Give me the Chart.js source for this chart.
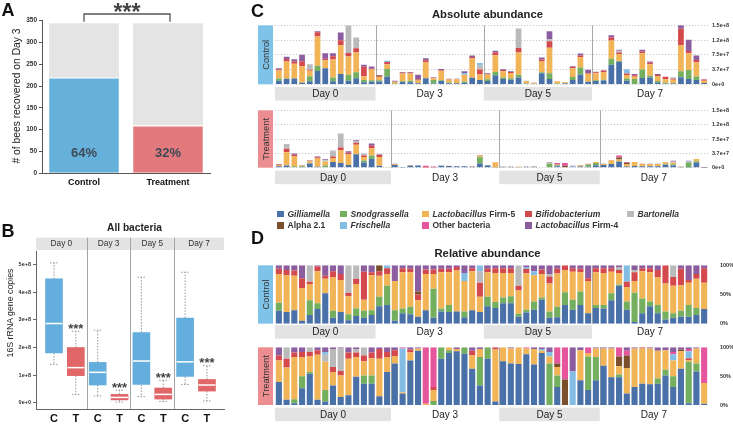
<!DOCTYPE html>
<html><head><meta charset="utf-8">
<script src="https://cdn.jsdelivr.net/npm/chart.js@4.4.1/dist/chart.umd.min.js"></script>
<style>
html,body{margin:0;padding:0;background:#fff;}
body{width:733px;height:424px;position:relative;overflow:hidden;font-family:"Liberation Sans",Arial,Helvetica,sans-serif;color:#222;}
canvas{position:absolute;}
.t{position:absolute;white-space:nowrap;line-height:1;}
.letter{font-weight:bold;font-size:18px;color:#111;}
.title{font-weight:bold;color:#222;transform:translateX(-50%);}
.rot{transform:translate(-50%,-50%) rotate(-90deg);color:#222;}
.leg{font-weight:bold;font-size:8.5px;color:#333;}
.sw{display:inline-block;width:6.5px;height:6.5px;margin-right:4px;vertical-align:-0.5px;}
</style></head><body>
<canvas id="cA" width="215" height="192" style="left:0;top:0"></canvas>
<canvas id="cB" width="230" height="209" style="left:0;top:215px"></canvas>
<canvas id="cC1" width="483" height="84" style="left:250px;top:18px"></canvas>
<canvas id="cC2" width="483" height="84" style="left:250px;top:103px"></canvas>
<canvas id="cD1" width="483" height="84" style="left:250px;top:258px"></canvas>
<canvas id="cD2" width="483" height="84" style="left:250px;top:340px"></canvas>

<div class="t letter" style="left:1.5px;top:1px">A</div>
<div class="t letter" style="left:1.5px;top:222px">B</div>
<div class="t letter" style="left:251px;top:1.7px">C</div>
<div class="t letter" style="left:251px;top:229px">D</div>
<div class="t title" style="left:487.5px;top:9.2px;font-size:11.3px">Absolute abundance</div>
<div class="t title" style="left:487.5px;top:247.8px;font-size:11.3px">Relative abundance</div>
<div class="t title" style="left:134.5px;top:223px;font-size:10.2px">All bacteria</div>
<div class="t rot" style="left:17px;top:95.8px;font-size:10.3px">#&nbsp;of bees recovered on Day 3</div>
<div class="t rot" style="left:10px;top:313px;font-size:8.8px">16S rRNA gene copies</div>
<div id="legend"></div>

<script>
// ---------------- DATA ----------------
// Panel A
const beeGroups = ['Control', 'Treatment'];
const beesRecovered = [220, 110];
const beesLost = [124, 234];
const beePercent = ['64%', '32%'];

// Panel B (16S rRNA gene copies)
const boxLabels = ['C', 'T', 'C', 'T', 'C', 'T', 'C', 'T'];
const boxDays = ['Day 0', 'Day 3', 'Day 5', 'Day 7'];
const boxMin    = [1.39e8, 0.30e8, 0.24e8, 0.02e8, 0.22e8, 0.04e8, 0.66e8, 0.06e8];
const boxQ1     = [1.80e8, 0.98e8, 0.64e8, 0.10e8, 0.66e8, 0.13e8, 0.95e8, 0.42e8];
const boxMedian = [2.87e8, 1.27e8, 1.10e8, 0.19e8, 1.51e8, 0.30e8, 1.48e8, 0.64e8];
const boxQ3     = [4.49e8, 2.00e8, 1.46e8, 0.30e8, 2.54e8, 0.53e8, 3.07e8, 0.84e8];
const boxMax    = [5.07e8, 2.59e8, 2.63e8, 0.45e8, 4.55e8, 0.81e8, 4.73e8, 1.34e8];
const boxStars  = ['', '***', '', '***', '', '***', '', '***'];
const boxTickLabels = ['0e+0', '1e+8', '2e+8', '3e+8', '4e+8', '5e+8'];

// Panels C / D
const days = ['Day 0', 'Day 3', 'Day 5', 'Day 7'];
const ctrlGroupSizes = [13, 14, 14, 15];
const trtGroupSizes = [15, 14, 13, 14];
const taxa = ['Gilliamella', 'Snodgrassella', 'Lactobacillus Firm-5', 'Bifidobacterium', 'Bartonella',
              'Alpha 2.1', 'Frischella', 'Other bacteria', 'Lactobacillus Firm-4'];
const absTickLabels = ['0e+0', '3.7e+7', '7.5e+7', '1.2e+8', '1.5e+8'];
const relTickLabels = ['0%', '50%', '100%'];

// relative composition (%) per sample, control
const ctrlGilliamella = [22,20,23,5,15,25,52,10,20,6,13,10,15, 30,32,5,18,16,12,23,10,21,20,21,11,23,20, 30,27,35,35,12,19,24,41,10,11,32,24,32,18, 27,26,40,65,24,3,18,30,18,7,10,12,12,15,25];
const ctrlSnodgrassella = [14,0,0,0,25,10,0,12,0,10,13,12,8, 16,33,18,8,13,0,0,50,5,12,0,10,0,0, 16,10,10,12,5,5,14,4,11,18,22,17,23,0, 5,6,12,2,14,50,25,8,14,14,8,10,20,12,0];
const ctrlFirm5 = [49,63,59,56,28,55,25,58,55,31,42,19,60, 36,20,50,62,59,28,62,25,62,56,70,52,67,26, 42,50,42,40,40,62,45,40,48,57,38,48,33,55, 56,55,37,20,25,20,47,50,48,48,47,44,38,50,45];
const ctrlBifido = [9,9,9,17,4,8,5,10,10,6,9,48,5, 8,10,0,7,6,10,8,8,6,6,6,0,5,24, 6,8,8,8,8,8,0,8,12,8,8,6,6,5, 7,8,6,5,9,15,5,7,12,31,15,28,5,8,25];
const ctrlBartonella = [0,0,0,0,28,0,0,0,0,47,23,0,0, 0,0,0,0,0,0,0,0,0,0,0,0,0,20, 0,0,0,0,35,0,0,0,4,0,0,0,0,0, 0,0,0,5,0,4,0,0,0,0,20,0,0,0,0];
const ctrlAlpha = [0,0,0,0,0,0,0,0,0,0,0,0,0, 10,0,0,0,0,5,0,0,0,0,0,0,0,0, 0,0,0,0,0,0,0,0,0,0,0,0,0,0, 0,0,0,0,0,0,0,0,0,0,0,0,0,0,0];
const ctrlFrischella = [0,0,0,0,0,0,0,0,0,0,0,0,0, 0,5,0,0,0,0,0,0,0,0,0,14,0,10, 0,0,0,0,0,3,7,0,0,0,0,0,0,0, 0,0,0,0,28,0,0,0,0,0,0,0,0,0,0];
const ctrlOther = [0,0,0,0,0,0,0,0,0,0,0,0,0, 0,0,0,0,0,0,0,0,0,0,0,0,0,0, 0,0,0,0,0,0,0,0,0,0,0,0,0,0, 0,0,0,0,0,0,0,0,0,0,0,0,0,0,0];
const ctrlFirm4 = [6,8,9,22,0,2,18,10,15,0,0,11,12, 0,0,27,5,6,45,7,7,6,6,3,13,5,0, 6,5,5,5,0,3,10,7,15,6,0,5,6,22, 5,5,5,3,0,8,5,5,8,0,0,6,25,15,5];
// total copies per sample, control
const ctrlTotal = [4.1e7,7.0e7,6.4e7,7.5e7,5.1e7,13.5e7,7.9e7,7.9e7,13.2e7,15.0e7,11.9e7,5.0e7,4.5e7,
  2.3e7,6.0e7,0.9e7,3.1e7,3.1e7,2.4e7,6.6e7,1.8e7,3.9e7,1.4e7,1.4e7,3.3e7,7.3e7,5.4e7,
  2.8e7,8.5e7,3.8e7,3.3e7,14.2e7,0.9e7,0.4e7,6.8e7,13.5e7,0.8e7,0.6e7,4.6e7,7.8e7,3.7e7,
  3.2e7,3.6e7,12.5e7,8.8e7,3.8e7,2.6e7,8.8e7,5.8e7,2.6e7,1.9e7,1.8e7,15.0e7,11.3e7,7.3e7,1.3e7];

// relative composition (%) per sample, treatment
const trtGilliamella = [40,9,3,29,54,9,6,34,14,17,49,37,37,15,57, 72,20,77,94,0,0,80,90,93,89,63,34,80,6, 76,72,71,88,70,90,0,31,0,0,43,26,43, 68,48,48,20,31,37,36,37,51,31,63,3,58,2];
const trtSnodgrassella = [0,0,7,21,3,0,20,0,0,0,0,14,14,0,0, 0,0,0,0,0,7,20,5,0,11,0,49,20,0, 0,0,0,0,0,0,72,20,0,0,0,58,40, 0,0,5,0,0,0,0,9,10,19,0,72,14,0];
const trtFirm5 = [37,56,73,33,27,78,49,23,37,63,34,25,30,65,26, 13,2,14,4,2,19,0,5,4,0,23,14,0,90, 24,26,29,10,27,4,12,15,0,0,52,6,15, 30,50,14,44,67,61,62,48,34,27,30,3,26,36];
const trtBifido = [9,15,8,9,8,8,0,9,8,11,8,10,10,17,9, 10,0,5,0,0,5,0,0,0,0,8,0,0,4, 0,0,0,0,0,0,0,0,0,0,0,0,0, 0,0,0,0,0,2,0,0,0,0,0,3,0,0];
const trtBartonella = [0,20,0,0,8,0,12,31,40,0,6,14,0,0,0, 0,0,0,0,0,0,0,0,0,0,0,0,0,0, 0,0,0,0,0,0,0,0,0,0,0,0,0, 0,0,0,0,0,0,0,0,0,0,0,0,0,0];
const trtAlpha = [0,0,0,0,0,0,0,0,0,0,0,0,0,0,0, 0,0,0,0,0,0,0,0,0,0,0,0,0,0, 0,0,0,0,0,0,0,6,44,0,0,0,0, 0,0,17,22,0,0,0,0,0,0,3,0,0,0];
const trtFrischella = [0,0,0,0,0,0,5,0,0,0,0,0,0,0,0, 0,76,0,0,0,0,0,0,0,0,0,0,0,0, 0,0,0,0,0,3,8,0,0,58,0,0,0, 0,0,0,0,0,0,0,0,0,11,0,12,0,0];
const trtOther = [0,0,0,0,0,0,0,0,0,0,0,0,0,0,0, 0,2,0,0,98,69,0,0,0,0,0,0,0,0, 0,0,0,2,0,0,0,28,56,0,0,10,0, 0,0,16,8,0,0,0,0,0,4,0,4,0,62];
const trtFirm4 = [14,0,9,8,0,5,8,3,1,9,3,0,9,3,8, 5,0,4,2,0,0,0,0,3,0,6,3,0,0, 0,2,0,0,3,3,8,0,0,42,5,0,2, 2,2,0,6,2,0,2,6,5,8,4,3,2,0];
const trtTotal = [0.95e7,6.2e7,3.7e7,0.7e7,2.0e7,2.9e7,2.2e7,4.4e7,8.9e7,4.3e7,7.2e7,3.7e7,6.3e7,3.5e7,0.2e7,
  1.0e7,0.2e7,0.7e7,0.6e7,0.5e7,0.3e7,0.6e7,0.5e7,0.4e7,0.4e7,0.4e7,3.3e7,0.7e7,1.4e7,
  0.3e7,0.3e7,0.3e7,0.3e7,0.4e7,0.1e7,1.4e7,1.2e7,1.2e7,0.5e7,0.7e7,1.0e7,1.5e7,
  1.0e7,2.0e7,3.2e7,1.5e7,1.5e7,1.0e7,1.0e7,1.0e7,1.5e7,1.8e7,0.3e7,1.8e7,2.3e7,0.2e7];

// ---------------- STYLE ----------------
const FONT = '"Liberation Sans", Arial, Helvetica, sans-serif';
const taxaColors = ['#4a70a8','#74ae5f','#f1b558','#d4494d','#bababa','#7b4f2c','#84bde4','#e6569d','#8c5ea0'];
const ctrlStripColor = '#80c3e9';
const trtStripColor = '#eb8d91';

Chart.defaults.font.family = FONT;
Chart.defaults.animation = false;
Chart.defaults.plugins.legend.display = false;
Chart.defaults.plugins.tooltip.enabled = false;

// ---------------- LEGEND (HTML) ----------------
const legendHtml = ['<i>Gilliamella</i>','<i>Snodgrassella</i>','<i>Lactobacillus</i> Firm-5','<i>Bifidobacterium</i>','<i>Bartonella</i>',
  'Alpha 2.1','<i>Frischella</i>','Other bacteria','<i>Lactobacillus</i> Firm-4'];
const legCols = [277, 340, 422, 525, 627];
const legRows = [209.5, 221.3];
const legEl = document.getElementById('legend');
taxa.forEach((t, k) => {
  const d = document.createElement('div');
  d.className = 't leg';
  const col = k < 5 ? k : k - 5, row = k < 5 ? 0 : 1;
  d.style.left = legCols[col] + 'px';
  d.style.top = legRows[row] + 'px';
  d.innerHTML = '<span class="sw" style="background:' + taxaColors[k] + '"></span>' + legendHtml[k];
  legEl.appendChild(d);
});

// ---------------- PANEL A ----------------
const beePlugin = {
  id: 'beeDecor',
  afterDraw(chart) {
    const { ctx, scales: { x, y } } = chart;
    ctx.save();
    ctx.font = 'bold 13px ' + FONT;
    ctx.fillStyle = '#3d4955';
    ctx.textAlign = 'center';
    ctx.textBaseline = 'alphabetic';
    beePercent.forEach((t, i) => ctx.fillText(t, x.getPixelForValue(i), y.getPixelForValue(37)));
    const x0 = x.getPixelForValue(0), x1 = x.getPixelForValue(1) + 2;
    ctx.strokeStyle = '#555'; ctx.lineWidth = 1.3;
    ctx.beginPath(); ctx.moveTo(x0, 21.7); ctx.lineTo(x0, 14); ctx.lineTo(x1, 14); ctx.lineTo(x1, 21.7); ctx.stroke();
    ctx.font = 'bold 23px ' + FONT;
    ctx.fillStyle = '#444';
    ctx.fillText('***', (x0 + x1) / 2, 20.2);
    ctx.restore();
  }
};
new Chart(document.getElementById('cA'), {
  type: 'bar',
  data: { labels: beeGroups, datasets: [
    { data: beesRecovered, backgroundColor: ['#66b1db', '#e27a7d'], borderColor: '#fff', borderWidth: { top: 1.2 }, borderSkipped: 'bottom', barPercentage: 0.83, categoryPercentage: 1 },
    { data: beesLost, backgroundColor: '#e4e4e4', borderWidth: 0, barPercentage: 0.83, categoryPercentage: 1 }
  ]},
  options: {
    responsive: false,
    layout: { padding: { top: 20.7, right: 5, left: 0, bottom: 0 } },
    scales: {
      x: { stacked: true, grid: { display: false, drawTicks: false }, border: { color: '#555', width: 1 },
           ticks: { font: { size: 9, weight: 'bold' }, color: '#111', padding: 4 },
           afterFit: s => { s.height = 18.7; } },
      y: { stacked: true, min: 0, max: 350,
           ticks: { stepSize: 50, font: { size: 6.5, weight: 'bold' }, color: '#333', padding: 2 },
           grid: { drawOnChartArea: false, tickLength: 3, color: '#555' }, border: { color: '#555', width: 1 },
           afterFit: s => { s.width = 42; } }
    }
  },
  plugins: [beePlugin]
});

// ---------------- PANEL B ----------------
const boxPos = [1, 2, 3, 4, 5, 6, 7, 8];
const facetBreaks = [2.5, 4.5, 6.5];
const boxColors = ['#63aedd', '#e06668', '#63aedd', '#e06668', '#63aedd', '#e06668', '#63aedd', '#e06668'];
const boxPlugin = {
  id: 'boxDecor',
  beforeDatasetsDraw(chart) {
    const { ctx, chartArea: ca, scales: { x } } = chart;
    ctx.save();
    ctx.fillStyle = '#e3e3e3';
    ctx.fillRect(ca.left, ca.top - 13.3, ca.right - ca.left, 12.3);
    const edges = [ca.left, ...facetBreaks.map(v => x.getPixelForValue(v)), ca.right];
    ctx.strokeStyle = '#a5a5a5'; ctx.lineWidth = 1;
    facetBreaks.forEach(v => {
      const px = Math.round(x.getPixelForValue(v)) + 0.5;
      ctx.beginPath(); ctx.moveTo(px, ca.top - 13.3); ctx.lineTo(px, ca.bottom); ctx.stroke();
    });
    ctx.fillStyle = '#333'; ctx.font = '8.3px ' + FONT; ctx.textAlign = 'center'; ctx.textBaseline = 'middle';
    boxDays.forEach((d, k) => ctx.fillText(d, (edges[k] + edges[k + 1]) / 2, ca.top - 7));
    ctx.strokeStyle = '#8a8a8a'; ctx.lineWidth = 0.9; ctx.setLineDash([1.5, 1.5]);
    const y = chart.scales.y;
    boxPos.forEach((p, i) => {
      const px = x.getPixelForValue(p);
      ctx.beginPath();
      ctx.moveTo(px, y.getPixelForValue(boxQ3[i])); ctx.lineTo(px, y.getPixelForValue(boxMax[i]));
      ctx.moveTo(px, y.getPixelForValue(boxQ1[i])); ctx.lineTo(px, y.getPixelForValue(boxMin[i]));
      ctx.moveTo(px - 4, y.getPixelForValue(boxMax[i])); ctx.lineTo(px + 4, y.getPixelForValue(boxMax[i]));
      ctx.moveTo(px - 4, y.getPixelForValue(boxMin[i])); ctx.lineTo(px + 4, y.getPixelForValue(boxMin[i]));
      ctx.stroke();
    });
    ctx.restore();
  },
  afterDatasetsDraw(chart) {
    const { ctx, scales: { x, y } } = chart;
    ctx.save();
    ctx.strokeStyle = '#ffffff'; ctx.lineWidth = 1.5;
    boxPos.forEach((p, i) => {
      const px = x.getPixelForValue(p), py = y.getPixelForValue(boxMedian[i]);
      ctx.beginPath(); ctx.moveTo(px - 8.5, py); ctx.lineTo(px + 8.5, py); ctx.stroke();
    });
    ctx.fillStyle = '#444'; ctx.font = 'bold 13px ' + FONT; ctx.textAlign = 'center'; ctx.textBaseline = 'alphabetic';
    boxPos.forEach((p, i) => {
      if (boxStars[i]) ctx.fillText(boxStars[i], x.getPixelForValue(p), y.getPixelForValue(boxMax[i]) + 1.7);
    });
    ctx.restore();
  }
};
new Chart(document.getElementById('cB'), {
  type: 'bar',
  data: { datasets: [{
    data: boxPos.map((p, i) => ({ x: p, y: [boxQ1[i], boxQ3[i]] })),
    backgroundColor: boxColors, borderWidth: 0, barThickness: 17
  }]},
  options: {
    responsive: false,
    layout: { padding: { top: 36, right: 6, left: 0, bottom: 0 } },
    scales: {
      x: { type: 'linear', min: 0.177, max: 8.78, offset: false,
           afterBuildTicks: s => { s.ticks = boxPos.map(v => ({ value: v })); },
           ticks: { callback: (v, i) => boxLabels[i], font: { size: 11, weight: 'bold' }, color: '#111', padding: 3, autoSkip: false, maxRotation: 0 },
           grid: { display: false, drawTicks: false }, border: { color: '#666', width: 1 },
           afterFit: s => { s.height = 15; } },
      y: { min: -0.23e8, max: 5.5e8,
           afterBuildTicks: s => { s.ticks = boxTickLabels.map((l, i) => ({ value: i * 1e8 })); },
           ticks: { callback: (v, i) => boxTickLabels[i], font: { size: 5.5, weight: 'bold' }, color: '#333', padding: 2, autoSkip: false },
           grid: { drawOnChartArea: false, tickLength: 3, color: '#666' }, border: { color: '#666', width: 1 },
           afterFit: s => { s.width = 36; } }
    }
  },
  plugins: [boxPlugin]
});

// ---------------- PANELS C & D ----------------
const abundPlugin = {
  id: 'abundDecor',
  beforeDatasetsDraw(chart, args, o) {
    const { ctx, chartArea: ca, scales: { x } } = chart;
    const pitch = x.getPixelForValue(1) - x.getPixelForValue(0);
    ctx.save(); ctx.strokeStyle = '#a8a8a8'; ctx.lineWidth = 1;
    let idx = 0;
    o.groups.forEach((g, k) => {
      idx += g;
      if (k < o.groups.length - 1) {
        const px = Math.round(x.getPixelForValue(idx) - pitch / 2) + 0.5;
        ctx.beginPath(); ctx.moveTo(px, ca.top); ctx.lineTo(px, ca.bottom); ctx.stroke();
      }
    });
    ctx.restore();
  },
  afterDraw(chart, args, o) {
    const { ctx, chartArea: ca, scales: { x } } = chart;
    const pitch = x.getPixelForValue(1) - x.getPixelForValue(0);
    ctx.save();
    let start = 0;
    o.groups.forEach((g, k) => {
      const l = x.getPixelForValue(start) - pitch / 2, r = x.getPixelForValue(start + g - 1) + pitch / 2;
      if (k % 2 === 0) { ctx.fillStyle = '#e3e3e3'; ctx.fillRect(l, ca.bottom + o.boxOffset, r - l, 13.5); }
      ctx.fillStyle = '#222'; ctx.font = '10px ' + FONT; ctx.textAlign = 'center'; ctx.textBaseline = 'middle';
      ctx.fillText(days[k], (l + r) / 2, ca.bottom + o.boxOffset + 7.2);
      start += g;
    });
    ctx.fillStyle = o.stripColor;
    ctx.fillRect(ca.left - 17, ca.top, 15, ca.bottom - ca.top);
    ctx.translate(ca.left - 9.5, (ca.top + ca.bottom) / 2);
    ctx.rotate(-Math.PI / 2);
    ctx.fillStyle = '#333'; ctx.font = '9.3px ' + FONT; ctx.textAlign = 'center'; ctx.textBaseline = 'middle';
    ctx.fillText(o.stripText, 0, 0.5);
    ctx.restore();
  }
};

function buildAbundance(id, groups, rel, totals, isAbs, stripColor, stripText, pad, boxOffset) {
  const labels = [];
  groups.forEach((g, k) => { for (let j = 0; j < g; j++) labels.push(days[k] + ' #' + (j + 1)); });
  const sums = totals.map((_, i) => rel.reduce((s, arr) => s + arr[i], 0));
  const datasets = taxa.map((t, k) => ({
    label: t,
    data: rel[k].map((v, i) => isAbs ? v / sums[i] * totals[i] : v / sums[i]),
    backgroundColor: taxaColors[k],
    borderWidth: 0,
    barPercentage: isAbs ? 0.74 : 0.79,
    categoryPercentage: 1
  }));
  const tickVals = isAbs ? [0, 3.75e7, 7.5e7, 1.125e8, 1.5e8] : [0, 0.5, 1];
  const tickLabels = isAbs ? absTickLabels : relTickLabels;
  new Chart(document.getElementById(id), {
    type: 'bar',
    data: { labels, datasets },
    options: {
      responsive: false,
      layout: { padding: pad },
      scales: {
        x: { stacked: true, display: false },
        y: { stacked: true, position: 'right', min: 0, max: isAbs ? 1.5e8 : 1,
             afterBuildTicks: s => { s.ticks = tickVals.map(v => ({ value: v })); },
             ticks: { callback: (v, i) => tickLabels[i], font: { size: 5.5, weight: 'bold' }, color: '#333', padding: 4, autoSkip: false },
             grid: isAbs ? { color: '#bdbdbd', lineWidth: 0.8, drawTicks: false } : { display: false },
             border: { display: false, dash: [1.2, 1.8] },
             afterFit: s => { s.width = 25; } }
      },
      plugins: { abundDecor: { groups, stripColor, stripText, boxOffset } }
    },
    plugins: [abundPlugin]
  });
}

const ctrlRel = [ctrlGilliamella, ctrlSnodgrassella, ctrlFirm5, ctrlBifido, ctrlBartonella, ctrlAlpha, ctrlFrischella, ctrlOther, ctrlFirm4];
const trtRel = [trtGilliamella, trtSnodgrassella, trtFirm5, trtBifido, trtBartonella, trtAlpha, trtFrischella, trtOther, trtFirm4];

buildAbundance('cC1', ctrlGroupSizes, ctrlRel, ctrlTotal, true, ctrlStripColor, 'Control', { left: 25, top: 6.7, right: 0, bottom: 17.7 }, 2.7);
buildAbundance('cC2', trtGroupSizes, trtRel, trtTotal, true, trtStripColor, 'Treatment', { left: 25, top: 7, right: 0, bottom: 19.3 }, 3);
buildAbundance('cD1', ctrlGroupSizes, ctrlRel, ctrlTotal, false, ctrlStripColor, 'Control', { left: 25, top: 6, right: 0, bottom: 18.3 }, 1.5);
buildAbundance('cD2', trtGroupSizes, trtRel, trtTotal, false, trtStripColor, 'Treatment', { left: 25, top: 6.7, right: 0, bottom: 19 }, 2.7);
</script>
</body></html>
